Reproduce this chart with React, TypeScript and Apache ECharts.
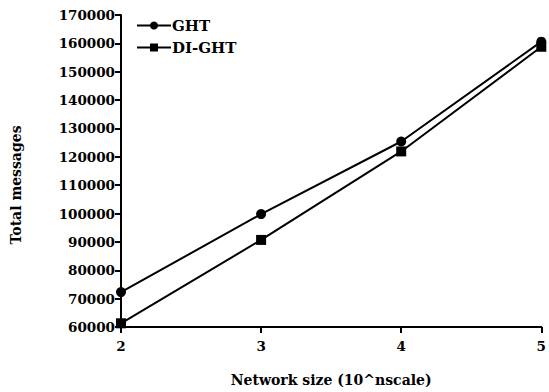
import React, { useEffect, useRef } from "react";
import * as echarts from "echarts";

const xValues = [2, 3, 4, 5];
const ghtValues = [72300, 99800, 125400, 160600];
const diGhtValues = [61300, 90700, 121900, 158800];
const seriesNames = ["GHT", "DI-GHT"];
const xTicks = [2, 3, 4, 5];
const yAxisTitle = "Total messages";
const xAxisTitle = "Network size (10^nscale)";

const FONT = "'DejaVu Serif', 'Liberation Serif', serif";

export default function App() {
  const ref = useRef<HTMLDivElement>(null);
  useEffect(() => {
    if (!ref.current) return;
    const chart = echarts.init(ref.current, null, { renderer: "svg" });
    const axisLabelStyle = { color: "#000", fontFamily: FONT, fontWeight: "bold" as const, fontSize: 13.5 };
    chart.setOption({
      animation: false,
      backgroundColor: "#fff",
      grid: { left: 121, right: 5, top: 15, bottom: 62, containLabel: false },
      legend: {
        orient: "vertical",
        left: 131,
        top: 13,
        itemWidth: 34,
        itemHeight: 10,
        itemGap: 7,
        data: seriesNames,
        textStyle: { color: "#000", fontFamily: FONT, fontWeight: "bold", fontSize: 15, padding: [0, 0, 0, -4] },
      },
      graphic: [
        {
          type: "text",
          x: 16,
          y: 185,
          rotation: Math.PI / 2,
          style: {
            text: yAxisTitle,
            fill: "#000",
            font: `bold 14px ${FONT}`,
            align: "center",
            verticalAlign: "middle",
          },
        },
      ],
      xAxis: {
        type: "value",
        min: 2,
        max: 5,
        interval: 1,
        name: xAxisTitle,
        nameLocation: "middle",
        nameGap: 46,
        nameTextStyle: { color: "#000", fontFamily: FONT, fontWeight: "bold", fontSize: 14 },
        axisLine: { lineStyle: { color: "#000", width: 2 } },
        axisTick: { length: 6, lineStyle: { color: "#000", width: 2 } },
        axisLabel: { ...axisLabelStyle, margin: 12, formatter: (v: number) => (xTicks.includes(v) ? String(v) : "") },
        splitLine: { show: false },
      },
      yAxis: {
        type: "value",
        min: 60000,
        max: 170000,
        interval: 10000,
        axisLine: { show: true, lineStyle: { color: "#000", width: 2 } },
        axisTick: { show: true, length: 6, lineStyle: { color: "#000", width: 2 } },
        axisLabel: { ...axisLabelStyle, margin: 6, formatter: (v: number) => String(v) },
        splitLine: { show: false },
      },
      series: [
        {
          name: seriesNames[0],
          type: "line",
          data: xValues.map((x, i) => [x, ghtValues[i]]),
          symbol: "circle",
          symbolSize: 10,
          lineStyle: { color: "#000", width: 2 },
          itemStyle: { color: "#000" },
        },
        {
          name: seriesNames[1],
          type: "line",
          data: xValues.map((x, i) => [x, diGhtValues[i]]),
          symbol: "rect",
          symbolSize: 10,
          lineStyle: { color: "#000", width: 2 },
          itemStyle: { color: "#000" },
        },
      ],
    });
    return () => chart.dispose();
  }, []);
  return <div ref={ref} style={{ width: 549, height: 392, position: "absolute", left: 0, top: 0 }} />;
}
